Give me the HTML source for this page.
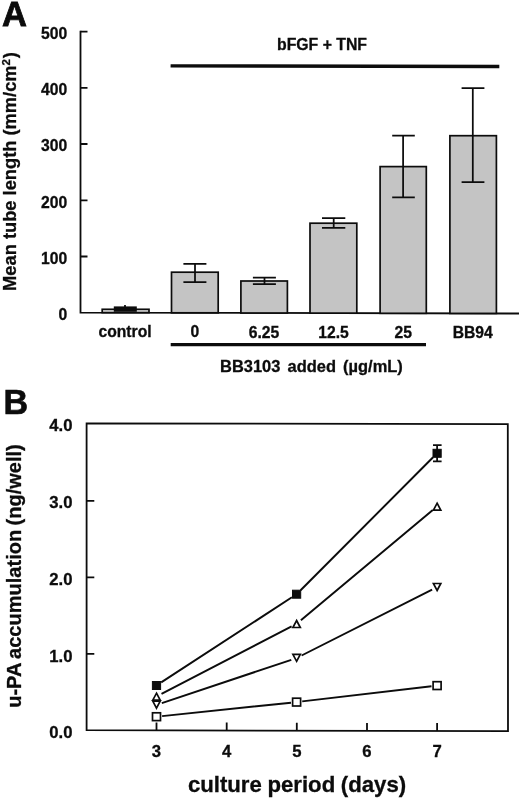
<!DOCTYPE html>
<html>
<head>
<meta charset="utf-8">
<title>Figure</title>
<style>
html,body{margin:0;padding:0;background:#fff;}
body{width:520px;height:799px;overflow:hidden;}
svg{display:block;will-change:transform;}
text{font-family:"Liberation Sans",sans-serif;font-weight:bold;fill:#0c0c0c;stroke:#0c0c0c;stroke-width:0.3px;}
.ax{stroke:#0c0c0c;stroke-width:1.8;fill:none;}
.thin{stroke:#0c0c0c;stroke-width:1.75;fill:none;}
.ln{stroke:#0c0c0c;stroke-width:1.95;fill:none;}
.bar{fill:#c4c4c4;stroke:#0c0c0c;stroke-width:1.7;}
.thick{stroke:#0c0c0c;stroke-width:3.4;fill:none;}
.mk{fill:#fff;stroke:#0c0c0c;stroke-width:1.7;stroke-linejoin:miter;}
.fk{fill:#0c0c0c;stroke:#0c0c0c;stroke-width:1;}
</style>
</head>
<body>
<svg width="520" height="799" viewBox="0 0 520 799">
<rect x="0" y="0" width="520" height="799" fill="#fff"/>

<!-- Panel A -->
<text x="1.9" y="25.9" font-size="34.6" style="stroke-width:0.8px">A</text>
<text transform="translate(16,171.5) rotate(-90)" text-anchor="middle" font-size="18.3">Mean tube length (mm/cm<tspan font-size="11.5" dy="-5.8">2</tspan><tspan dy="5.8" dx="0.8">)</tspan></text>
<path class="ax" d="M80.5 30.8 V312.6 L519 313.5"/>
<path class="ax" d="M80.5 31.7 H87.5 M80.5 87.8 H87.5 M80.5 144 H87.5 M80.5 200.3 H87.5 M80.5 256.5 H87.5"/>
<g font-size="15.7" text-anchor="end">
<text x="67.3" y="38.5">500</text>
<text x="67.3" y="94.8">400</text>
<text x="67.3" y="151.2">300</text>
<text x="67.3" y="207.5">200</text>
<text x="67.3" y="263.8">100</text>
<text x="67.3" y="320.1">0</text>
</g>
<path class="thick" d="M170.6 65.9 L499.3 66.5"/>
<text font-size="15.8" x="322" y="49.7" text-anchor="middle">bFGF + TNF</text>
<rect class="bar" x="102.2" y="309.3" width="46.8" height="3.3" style="fill:#dcdcdc"/>
<rect x="113.8" y="306.4" width="23" height="5.4" fill="#0c0c0c"/>
<path class="thin" d="M125 305 V307"/>
<rect class="bar" x="171.5" y="272.2" width="46.7" height="40.6"/>
<path class="thin" d="M195.0 263.8 V282.0 M183.4 263.8 H206.4 M183.4 282.0 H206.4"/>
<rect class="bar" x="240.9" y="281.0" width="46.5" height="32.0"/>
<path class="thin" d="M264.5 277.7 V284.0 M252.9 277.7 H275.9 M252.9 284.0 H275.9"/>
<rect class="bar" x="310.0" y="223.2" width="46.8" height="89.9"/>
<path class="thin" d="M333.7 218.0 V227.8 M322.0 218.0 H345.3 M322.0 227.8 H345.3"/>
<rect class="bar" x="380.1" y="166.6" width="46.2" height="146.7"/>
<path class="thin" d="M403.1 135.7 V197.4 M392.2 135.7 H414.8 M392.2 197.4 H414.8"/>
<rect class="bar" x="449.9" y="135.7" width="46.5" height="177.7"/>
<path class="thin" d="M472.8 88.0 V182.2 M461.6 88.0 H484.4 M461.6 182.2 H484.4"/>
<g font-size="15.7" text-anchor="middle">
<text x="125" y="337.2">control</text>
<text x="194.8" y="337.3">0</text>
<text x="264" y="337.5">6.25</text>
<text x="333.6" y="337.7">12.5</text>
<text x="403.2" y="337.9">25</text>
<text x="472.7" y="338">BB94</text>
</g>
<path class="thick" d="M170.7 344.6 H426"/>
<g font-size="16.45">
<text x="220.1" y="371.5">BB3103</text>
<text x="287.6" y="371.5">added</text>
<text x="343.1" y="371.5">(µg/mL)</text>
</g>
<!-- Panel B -->
<text x="3.6" y="414.2" font-size="35.5" textLength="24.6" lengthAdjust="spacingAndGlyphs" style="stroke-width:0.7px">B</text>
<text transform="translate(20.6,576) rotate(-90)" text-anchor="middle" font-size="20.05" word-spacing="-1.2">u-PA accumulation (ng/well)</text>
<path class="ax" d="M86.6 423.3 L507.8 424.1 L508.0 731.2 L86.6 730.2 Z"/>
<path class="ax" d="M86.6 500.8 H94.3 M86.6 577.3 H94.3 M86.6 653.8 H94.3"/>
<path class="ax" d="M156.5 730.4 V722.4 M226.7 730.5 V722.5 M296.8 730.7 V722.7 M367.0 730.9 V722.9 M437.1 731.0 V723.0"/>
<g font-size="16.7" text-anchor="end">
<text x="72.5" y="431.2">4.0</text>
<text x="72.5" y="508.2">3.0</text>
<text x="72.5" y="584.7">2.0</text>
<text x="72.5" y="661.6">1.0</text>
<text x="72.5" y="738.2">0.0</text>
</g>
<g font-size="16.7" text-anchor="middle">
<text x="156.5" y="757.3">3</text>
<text x="226.7" y="757.3">4</text>
<text x="296.8" y="757.3">5</text>
<text x="367.0" y="757.3">6</text>
<text x="437.1" y="757.3">7</text>
</g>
<text x="297" y="792.1" text-anchor="middle" font-size="22.2" word-spacing="-0.6">culture period (days)</text>
<path class="ln" d="M161.2 682.4 L291.9 597.3 M300.6 590.2 L433.1 457.3"/>
<path class="ln" d="M161.5 693.9 L291.6 626.4 M300.9 620.2 L432.8 510.1"/>
<path class="ln" d="M161.8 703.1 L291.3 659.8 M301.6 655.5 L432.1 589.7"/>
<path class="ln" d="M162.1 716.1 L291.0 702.7 M302.2 701.4 L431.5 686.3"/>
<path class="thin" d="M437.1 445.2 V461.4 M433 445.2 H441.6 M433 461.4 H441.6"/>
<rect class="fk" x="152.4" y="681.5" width="8.2" height="8"/>
<rect class="fk" x="292.5" y="590.2" width="8.2" height="8"/>
<rect class="fk" x="433.0" y="449.3" width="8.2" height="8"/>
<path class="mk" d="M156.5 693.2 L160.2 700.2 H152.8 Z"/>
<path class="mk" d="M296.6 620.5 L300.3 627.5 H292.9 Z"/>
<path class="mk" d="M437.1 503.2 L440.8 510.2 H433.4 Z"/>
<path class="mk" d="M156.5 708.2 L160.2 701.2 H152.8 Z"/>
<path class="mk" d="M296.6 661.3 L300.3 654.3 H292.9 Z"/>
<path class="mk" d="M437.1 590.5 L440.8 583.5 H433.4 Z"/>
<rect class="mk" x="152.5" y="712.8" width="8" height="7.8"/>
<rect class="mk" x="292.6" y="698.2" width="8" height="7.8"/>
<rect class="mk" x="433.1" y="681.7" width="8" height="7.8"/>
</svg>
</body>
</html>
